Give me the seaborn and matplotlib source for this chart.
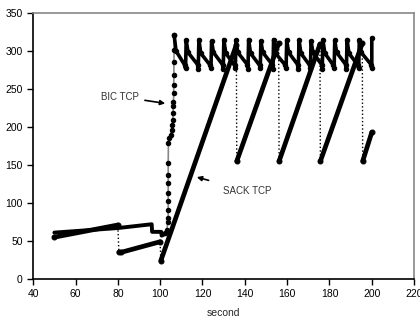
import numpy as np
import pandas as pd
import matplotlib
matplotlib.use("Agg")
import matplotlib.pyplot as plt
import seaborn as sns

# SACK TCP: vertices (drops are the dotted verticals)
sack_t = [50, 80, 80.5, 81.5, 100, 100.3, 136, 136.2, 156, 156.2, 175.5, 175.7, 195.5, 195.7, 200]
sack_w = [55, 71, 35, 35, 49, 24, 308, 155, 310, 155, 309, 155, 310, 155, 193]

# BIC TCP: slow phase, steep ramp, then the sawtooth
bic_slow_t = [50, 80, 96, 96.2, 100.5, 100.7, 101.5, 102.5]
bic_slow_w = [61, 67, 72, 62, 62, 57, 58, 60]

bic_ramp_t = [102.5, 103.2, 103.6, 103.8, 103.8, 103.8, 103.8, 103.8, 103.8, 103.8, 103.9,
              104.3, 105.0, 105.5, 105.8, 106.0, 106.1, 106.2, 106.3, 106.4, 106.4, 106.5,
              106.5, 106.6, 106.6]
bic_ramp_w = [60, 65, 75, 80, 91, 102, 113, 126, 137, 152, 179,
              186, 190, 196, 203, 209, 218, 227, 233, 245, 255, 268,
              286, 301, 321]

bic_saw_t = [106.6, 107.5, 111.7,
             112.0, 112.3, 113.2, 117.7, 118.0, 118.3, 119.2, 123.7,
             124.0, 124.3, 125.2, 129.5, 129.8, 130.1, 131.0, 135.2,
             135.5, 135.8, 136.7, 141.2, 141.5, 141.8, 142.7, 147.0,
             147.3, 147.6, 148.5, 153.0, 153.3, 153.6, 154.5, 159.2,
             159.5, 159.8, 160.7, 165.0, 165.3, 165.6, 166.5, 170.7,
             171.0, 171.3, 172.2, 176.3, 176.6, 176.9, 177.8, 181.9,
             182.2, 182.5, 183.4, 187.7, 188.0, 188.3, 189.2, 193.5,
             193.8, 194.1, 195.0, 199.7, 200.0, 200.0]
bic_saw_w = [321, 300, 281,
             277, 314, 298, 282, 276, 315, 297, 281,
             277, 313, 298, 282, 276, 315, 297, 281,
             277, 314, 298, 282, 276, 315, 297, 281,
             277, 313, 298, 282, 276, 315, 297, 281,
             277, 314, 298, 282, 276, 315, 297, 281,
             277, 313, 298, 282, 276, 315, 297, 281,
             277, 314, 298, 282, 276, 315, 297, 281,
             277, 314, 298, 282, 277, 317]

x_ticks = [40, 60, 80, 100, 120, 140, 160, 180, 200, 220]
y_ticks = [0, 50, 100, 150, 200, 250, 300, 350]

sns.set_style("white")
plt.rcParams["font.family"] = ["Liberation Sans", "DejaVu Sans"]

fig = plt.figure(figsize=(4.2, 3.24), dpi=100)
ax = fig.add_axes([0.079, 0.139, 0.907, 0.821])

# SACK: thin dotted line through everything, thick solid on the rising parts
sack = pd.DataFrame({"t": sack_t, "w": sack_w})
sns.lineplot(data=sack, x="t", y="w", sort=False, estimator=None, ax=ax,
             color="black", lw=1.0, linestyle=":")
drops = np.where(np.diff(sack["w"].values) < 0)[0]
start = 0
for d in list(drops) + [len(sack) - 1]:
    seg = sack.iloc[start:d + 1]
    if len(seg) > 1:
        sns.lineplot(data=seg, x="t", y="w", sort=False, estimator=None, ax=ax,
                     color="black", lw=3.4, solid_capstyle="round")
    start = d + 1
ax.plot(sack_t, sack_w, "o", ms=3.5, mfc="black", mec="black", mew=0.8)

# BIC
slow = pd.DataFrame({"t": bic_slow_t, "w": bic_slow_w})
sns.lineplot(data=slow, x="t", y="w", sort=False, estimator=None, ax=ax,
             color="black", lw=2.8)
ramp = pd.DataFrame({"t": bic_ramp_t, "w": bic_ramp_w})
sns.lineplot(data=ramp, x="t", y="w", sort=False, estimator=None, ax=ax,
             color="#888888", lw=1.2, marker="o", markersize=3.2,
             markerfacecolor="black", markeredgecolor="black")
saw = pd.DataFrame({"t": bic_saw_t, "w": bic_saw_w})
sns.lineplot(data=saw, x="t", y="w", sort=False, estimator=None, ax=ax,
             color="black", lw=2.6, marker="o", markersize=3.2,
             markerfacecolor="black", markeredgecolor="black")

ax.annotate("BIC TCP", xy=(102.4, 231), xytext=(81, 240), fontsize=7, color="#333333",
            ha="center", va="center",
            arrowprops=dict(arrowstyle="-|>", color="black", lw=1.2,
                            mutation_scale=7, shrinkA=2, shrinkB=0))
ax.annotate("SACK TCP", xy=(117.3, 134), xytext=(129.5, 116), fontsize=7, color="#333333",
            ha="left", va="center",
            arrowprops=dict(arrowstyle="-|>", color="black", lw=1.2,
                            mutation_scale=7, shrinkA=8, shrinkB=0))

ax.set_xlim(40, 220)
ax.set_ylim(0, 350)
ax.set_xticks(x_ticks)
ax.set_yticks(y_ticks)
ax.tick_params(axis="both", direction="out", length=4, width=1, labelsize=7.5,
               colors="black", bottom=True, left=True)
ax.set_xlabel("second", fontsize=7.5, labelpad=6)
ax.set_ylabel("")
for s in ["left", "bottom"]:
    ax.spines[s].set_color("black")
    ax.spines[s].set_linewidth(1.2)
for s in ["top", "right"]:
    ax.spines[s].set_color("#888888")
    ax.spines[s].set_linewidth(1.2)
ax.grid(False)

fig.savefig("out.png", dpi=100)
